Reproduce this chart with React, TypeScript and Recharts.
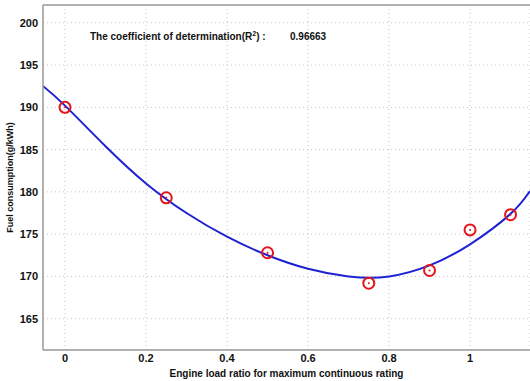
import React from 'react';
import {
  ComposedChart,
  Line,
  Scatter,
  XAxis,
  YAxis,
  CartesianGrid,
  ReferenceLine,
} from 'recharts';

// measured load points (red circles)
const loadRatio = [0, 0.25, 0.5, 0.75, 0.9, 1.0, 1.1];
const fuelMeasured = [190.0, 179.3, 172.8, 169.2, 170.7, 175.5, 177.3];

// fitted curve (blue line)
const curveX = [-0.054, 0, 0.1, 0.2, 0.3, 0.4, 0.5, 0.6, 0.7, 0.8, 0.9, 1.0, 1.1, 1.148];
const curveY = [192.5, 190.2, 185.4, 181.0, 177.5, 174.7, 172.5, 170.9, 170.0, 170.0, 171.3, 173.8, 177.4, 180.1];

const xTicks = [0, 0.2, 0.4, 0.6, 0.8, 1];
const yTicks = [165, 170, 175, 180, 185, 190, 195, 200];

const X_DOMAIN: [number, number] = [-0.0543, 1.148];
const Y_DOMAIN: [number, number] = [161.3, 202.1];

const FONT = '"Liberation Sans", Arial, sans-serif';
const AXIS_GRAY = '#9a9a9a';

const points = loadRatio.map((x, i) => ({ x, y: fuelMeasured[i] }));
const curve = curveX.map((x, i) => ({ x, y: curveY[i] }));

function RingMarker(props: { cx?: number; cy?: number }) {
  const { cx, cy } = props;
  if (cx == null || cy == null) return null;
  return (
    <g>
      <circle cx={cx} cy={cy} r={5.5} fill="none" stroke="#e3161c" strokeWidth={2} />
      <circle cx={cx} cy={cy} r={1} fill="#e3161c" />
    </g>
  );
}

const tickStyle = { fill: '#111', fontSize: 11, fontWeight: 700, fontFamily: FONT };

export default function App() {
  return (
    <div
      style={{
        position: 'absolute',
        left: 0,
        top: 0,
        width: 530,
        height: 381,
        overflow: 'hidden',
        background: '#fff',
      }}
    >
      <ComposedChart width={530} height={381} margin={{ top: 5, right: 0, bottom: 0, left: 0 }}>
        <CartesianGrid stroke="#c4c4c4" strokeDasharray="1 3" ticks={undefined} />
        <XAxis
          type="number"
          dataKey="x"
          domain={X_DOMAIN}
          allowDataOverflow
          ticks={xTicks}
          tickFormatter={(v: number) => String(v)}
          tick={tickStyle}
          tickLine={false}
          tickSize={0}
          tickMargin={4}
          height={31}
          stroke={AXIS_GRAY}
          strokeWidth={1.5}
          label={{
            value: 'Engine load ratio for maximum continuous rating',
            position: 'insideBottom',
            offset: 4,
            style: { fill: '#111', fontSize: 10, fontWeight: 700, fontFamily: FONT },
          }}
        />
        <YAxis
          type="number"
          dataKey="y"
          domain={Y_DOMAIN}
          allowDataOverflow
          ticks={yTicks}
          tick={tickStyle}
          tickLine={false}
          tickSize={0}
          tickMargin={5}
          width={43}
          stroke={AXIS_GRAY}
          strokeWidth={1.5}
          label={{
            value: 'Fuel consumption(g/kWh)',
            angle: -90,
            position: 'insideLeft',
            offset: 10,
            style: { textAnchor: 'middle', fill: '#111', fontSize: 9, fontWeight: 700, fontFamily: FONT },
          }}
        />
        <ReferenceLine y={Y_DOMAIN[1]} stroke={AXIS_GRAY} strokeWidth={1.5} />
        <Line
          data={curve}
          dataKey="y"
          type="natural"
          stroke="#1e22d2"
          strokeWidth={2}
          dot={false}
          activeDot={false}
          isAnimationActive={false}
        />
        <Scatter data={points} dataKey="y" shape={<RingMarker />} isAnimationActive={false} />
      </ComposedChart>
      <div
        style={{
          position: 'absolute',
          left: 90,
          top: 30,
          fontFamily: FONT,
          fontSize: 10,
          fontWeight: 700,
          color: '#111',
          whiteSpace: 'nowrap',
          lineHeight: '14px',
        }}
      >
        The coefficient of determination(R<sup style={{ fontSize: 7, lineHeight: 0 }}>2</sup>) :
      </div>
      <div
        style={{
          position: 'absolute',
          left: 290,
          top: 30,
          fontFamily: FONT,
          fontSize: 10,
          fontWeight: 700,
          color: '#111',
          lineHeight: '14px',
        }}
      >
        0.96663
      </div>
    </div>
  );
}
